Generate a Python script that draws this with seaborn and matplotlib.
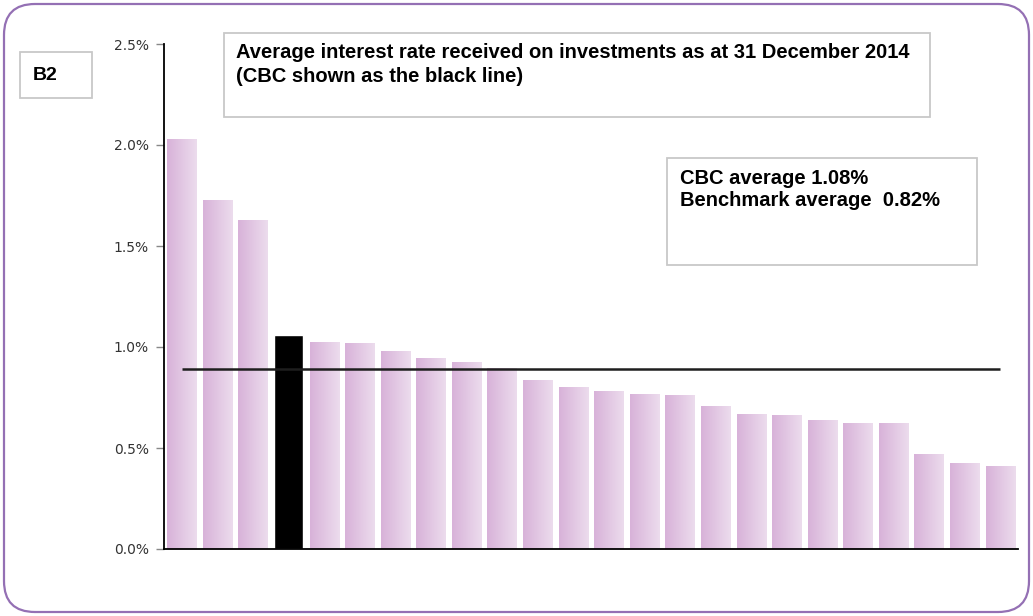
import numpy as np
import pandas as pd
import matplotlib
matplotlib.use("Agg")
import matplotlib.pyplot as plt
import seaborn as sns
from matplotlib.patches import FancyBboxPatch, Rectangle
from matplotlib.colors import LinearSegmentedColormap
from matplotlib.ticker import FuncFormatter

# Average interest rate (%) per authority, sorted high to low
rates = [2.03, 1.73, 1.63, 1.06, 1.025, 1.02, 0.98, 0.946, 0.926, 0.896, 0.837, 0.80,
         0.78, 0.767, 0.762, 0.708, 0.668, 0.663, 0.639, 0.624, 0.624, 0.47, 0.426, 0.41]
highlight = 3          # CBC position
benchmark_line = 0.89  # level of the horizontal black line
yticks = [0.0, 0.5, 1.0, 1.5, 2.0, 2.5]

title_text = "Average interest rate received on investments as at 31 December 2014\n(CBC shown as the black line)"
stats_text = "CBC average 1.08%\nBenchmark average  0.82%"
panel_label = "B2"

df = pd.DataFrame({"org": [f"O{i+1}" for i in range(len(rates))], "rate": rates})

sns.set_theme(style="white")
plt.rcParams["font.family"] = ["DejaVu Sans"]

W, H = 1033, 616
fig = plt.figure(figsize=(W / 100, H / 100), dpi=100)
fig.patch.set_facecolor("white")

def fx(px):
    return px / W

def fy(py):
    return 1 - py / H

# outer rounded frame
frame = FancyBboxPatch((fx(4), fy(612)), fx(1029) - fx(4), fy(4) - fy(612),
                       boxstyle="round,pad=0,rounding_size=0.03",
                       transform=fig.transFigure, facecolor="none",
                       edgecolor="#9470b4", linewidth=1.6, mutation_aspect=W / H)
fig.patches.append(frame)

ax = fig.add_axes([fx(164), fy(549), fx(1018) - fx(164), fy(44) - fy(549)])
palette = ["#000000" if i == highlight else "#dcb8dc" for i in range(len(rates))]
sns.barplot(data=df, x="org", y="rate", hue="org", palette=palette, legend=False,
            width=0.82, ax=ax, saturation=1)

# horizontal gradient fill on the lilac bars
grad_cmap = LinearSegmentedColormap.from_list("lilac", ["#d8b2d9", "#ecdced"])
grad = np.linspace(0, 1, 64).reshape(1, -1)
for i, p in enumerate(ax.patches):
    if i == highlight:
        continue
    x0, y0 = p.get_x(), p.get_y()
    w, h = p.get_width(), p.get_height()
    im = ax.imshow(grad, cmap=grad_cmap, extent=[x0, x0 + w, y0, y0 + h],
                   aspect="auto", zorder=p.get_zorder() + 0.1, interpolation="bilinear")
    im.set_clip_path(p)
ax.set_xlim(-0.5, len(rates) - 0.5)
ax.set_ylim(0, 2.5)

ax.plot([0, len(rates) - 1], [benchmark_line, benchmark_line], color="#1e1e1e",
        linewidth=1.8, zorder=5, solid_capstyle="butt")

ax.set_yticks(yticks)
ax.yaxis.set_major_formatter(FuncFormatter(lambda v, _: f"{v:.1f}%"))
ax.tick_params(axis="y", left=True, length=6, width=1, color="#888888",
               labelsize=10, labelcolor="#333333", pad=5)
ax.set_xticks([])
ax.set_xlabel("")
ax.set_ylabel("")
for s in ["top", "right"]:
    ax.spines[s].set_visible(False)
for s in ["left", "bottom"]:
    ax.spines[s].set_color("black")
    ax.spines[s].set_linewidth(1.3)
ax.set_facecolor("none")

def box(x0, y0, x1, y1):
    r = Rectangle((fx(x0), fy(y1)), fx(x1) - fx(x0), fy(y0) - fy(y1),
                  transform=fig.transFigure, facecolor="white",
                  edgecolor="#c8c8c8", linewidth=1.3, zorder=10)
    fig.patches.append(r)

bold = dict(fontweight="bold", family="Liberation Sans", color="black",
            ha="left", zorder=11)

box(20, 52, 92, 98)
fig.text(fx(33), fy(76), panel_label, fontsize=14, va="center", **bold)

box(224, 33, 930, 117)
fig.text(fx(236), fy(43), title_text, fontsize=14.5, va="top",
         linespacing=1.3, **bold)

box(667, 158, 977, 265)
fig.text(fx(680), fy(169), stats_text, fontsize=14.5, va="top",
         linespacing=1.2, **bold)

fig.savefig("out.png", dpi=100, facecolor="white")
